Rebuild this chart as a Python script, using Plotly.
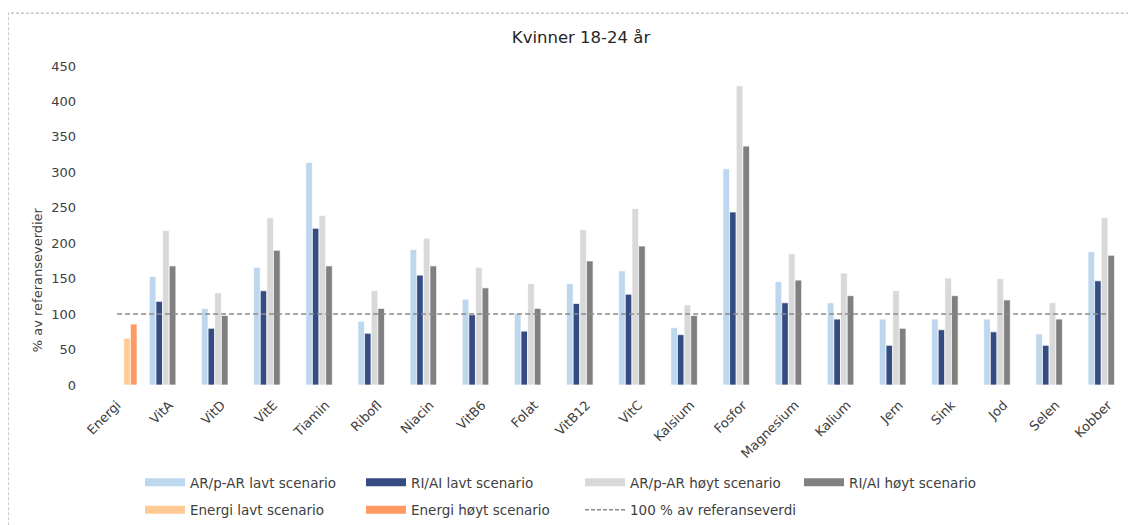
import plotly.graph_objects as go

# Kategorier langs x-aksen
kategorier = ["Energi", "VitA", "VitD", "VitE", "Tiamin", "Ribofl", "Niacin", "VitB6",
              "Folat", "VitB12", "VitC", "Kalsium", "Fosfor", "Magnesium", "Kalium",
              "Jern", "Sink", "Jod", "Selen", "Kobber"]

# % av referanseverdi (lest av figuren), None = ingen stolpe
ar_lavt = [None, 153, 108, 166, 314, 90, 191, 121, 101, 143, 161, 81, 305, 146, 116, 93, 93, 93, 72, 188]
ri_lavt = [None, 118, 80, 133, 221, 73, 155, 99, 76, 115, 128, 71, 244, 116, 93, 56, 78, 75, 56, 147]
ar_hoyt = [None, 218, 130, 236, 239, 133, 207, 166, 143, 219, 249, 113, 422, 185, 158, 133, 151, 150, 116, 236]
ri_hoyt = [None, 168, 98, 190, 168, 108, 168, 137, 108, 175, 196, 98, 337, 148, 126, 80, 126, 120, 93, 183]
energi_lavt = [66] + [None] * 19
energi_hoyt = [86] + [None] * 19
referanse = [100] * len(kategorier)

serier = [
    ("AR/p-AR lavt scenario", ar_lavt, "#BDD7EE", "legend"),
    ("RI/AI lavt scenario", ri_lavt, "#344C82", "legend2"),
    ("AR/p-AR høyt scenario", ar_hoyt, "#D9D9D9", "legend3"),
    ("RI/AI høyt scenario", ri_hoyt, "#808080", "legend4"),
    ("Energi lavt scenario", energi_lavt, "#FFCA96", "legend"),
    ("Energi høyt scenario", energi_hoyt, "#FF9A62", "legend2"),
]

fig = go.Figure()

for navn, verdier, farge, leg in serier:
    fig.add_trace(go.Bar(x=kategorier, y=verdier, name=navn, showlegend=False,
                         marker=dict(color=farge, line=dict(color="white", width=0.7))))

# 100 %-linja
fig.add_trace(go.Scatter(x=kategorier, y=referanse, mode="lines", showlegend=False,
                         line=dict(color="#8C8C8C", width=1.5, dash="5px,3px")))

# Legend-oppføringer som brede striper (som i Excel)
for navn, verdier, farge, leg in serier:
    fig.add_trace(go.Scatter(x=[None], y=[None], mode="lines", name=navn,
                             legend=leg, legendgroup=navn,
                             line=dict(color=farge, width=8)))
fig.add_trace(go.Scatter(x=[None], y=[None], mode="lines", name="100 % av referanseverdi",
                         legend="legend3", legendgroup="ref",
                         line=dict(color="#8C8C8C", width=1.5, dash="4px,2px")))

FW, FH = 1136, 525
OFF = 8  # siden får 8 px marg i nettleseren
L, R, T, B = 91.35 - OFF, 1133.6 - OFF, 66 - OFF, 385.5 - OFF
W, H = R - L, B - T


def px_x(p):
    return (p - OFF - L) / W


def px_y(p):
    return (B - (p - OFF)) / H


def cx(p):
    return (p - OFF) / FW


def cy(p):
    return 1 - (p - OFF) / FH


leg_felles = dict(orientation="v", xanchor="left", yanchor="top", xref="container",
                  yref="container", y=cy(467), tracegroupgap=7, itemwidth=40,
                  bgcolor="rgba(0,0,0,0)", font=dict(size=13.5, color="#404040"))

fig.update_layout(
    width=FW, height=FH,
    margin=dict(l=L, r=FW - R, t=T, b=FH - B, autoexpand=False),
    paper_bgcolor="white", plot_bgcolor="white",
    font=dict(family="DejaVu Sans", color="#404040"),
    barmode="group", bargap=0.236, bargroupgap=0,
    title=dict(text="Kvinner 18-24 år", x=cx(581), xref="container", xanchor="center",
               y=cy(37), yref="container", yanchor="middle",
               font=dict(size=16.5, color="#262626")),
    legend=dict(x=cx(140), **leg_felles),
    legend2=dict(x=cx(361), **leg_felles),
    legend3=dict(x=cx(580), **leg_felles),
    legend4=dict(x=cx(799), **leg_felles),
    shapes=[dict(type="rect", xref="paper", yref="paper",
                 x0=px_x(8.5), x1=px_x(1180), y0=px_y(580), y1=px_y(13),
                 line=dict(color="#A6A6A6", width=1, dash="3px,2px"),
                 fillcolor="rgba(0,0,0,0)", layer="below")],
    annotations=[dict(text="% av referanseverdier", xref="paper", yref="paper",
                      x=px_x(38), y=px_y(280), xanchor="center", yanchor="middle",
                      textangle=-90, showarrow=False,
                      font=dict(size=13, color="#404040"))],
)

fig.update_yaxes(range=[0, 450], dtick=50, showgrid=False, zeroline=False, showline=False,
                 automargin=False, ticks="", ticklabelstandoff=14,
                 tickfont=dict(size=13, color="#404040"))
fig.update_xaxes(showgrid=False, showline=False, ticks="", tickangle=-45, automargin=False,
                 ticklabelstandoff=9, tickfont=dict(size=13, color="#404040"))

fig.write_html("out.html")
